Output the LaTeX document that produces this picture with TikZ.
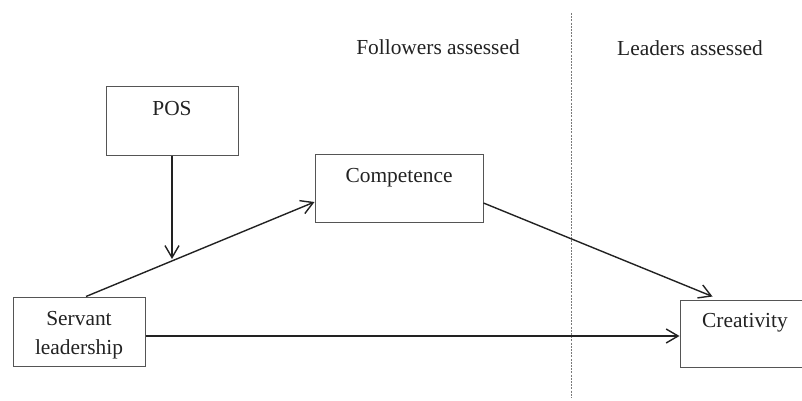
\documentclass[tikz,border=0pt]{standalone}
\usepackage{fontspec}
\setmainfont{Liberation Serif}
\usetikzlibrary{arrows.meta,calc}
\definecolor{boxgray}{HTML}{555555}
\definecolor{inkgray}{HTML}{222222}
\definecolor{splitgray}{HTML}{7A7A7A}
\newcommand{\boxgap}{\rule{0pt}{13pt}}
\tikzset{
  boxnode/.style={
    rectangle, draw=boxgray, line width=0.5pt, align=center,
    inner sep=0pt, text=inkgray, font=\fontsize{10.7}{14.5}\selectfont
  },
  headlabel/.style={text=inkgray, font=\fontsize{10.7}{14.5}\selectfont},
  linkarrow/.style={-{Straight Barb[length=6pt,width=7pt]}, line width=0.7pt, draw=inkgray},
  splitline/.style={draw=splitgray, line width=0.5pt, dash pattern=on 1pt off 0.6pt}
}

\begin{document}
\begin{tikzpicture}[x=0.5pt,y=-0.5pt]
  \clip (0,0) rectangle (802,401);

  \node[headlabel] (follow) at (438,47) {Followers assessed};
  \node[headlabel] (lead) at (690,48) {Leaders assessed};
  \draw[splitline] (571,13) -- (571,398);

  \node[boxnode, minimum width=66pt, minimum height=34pt] (pos) at (172,121) {\boxgap POS\\\strut};
  \node[boxnode, minimum width=84pt, minimum height=34pt] (comp) at (399,188) {\boxgap Competence\\\strut};
  \node[boxnode, minimum width=66pt, minimum height=34.5pt] (serv) at (79,331.5) {\boxgap Servant\\leadership\strut};
  \node[boxnode, minimum width=65pt, minimum height=33.5pt] (crea) at (745,333.5) {\boxgap Creativity\\\strut};

  \coordinate (servtop) at ($(serv.north)+(7,0)$);
  \coordinate (compin) at ($(comp.west)+(0,14)$);
  \draw[linkarrow] (servtop) -- coordinate[pos=0.397] (meet) (compin);
  \draw[linkarrow] (pos.south) -- (pos.south |- meet);
  \draw[linkarrow] ($(comp.east)+(0,15)$) -- ($(crea.north west)+(33,-3)$);
  \draw[linkarrow] ($(serv.east)+(0,4.5)$) -- ($(crea.west)+(0,2.5)$);
\end{tikzpicture}
\end{document}
